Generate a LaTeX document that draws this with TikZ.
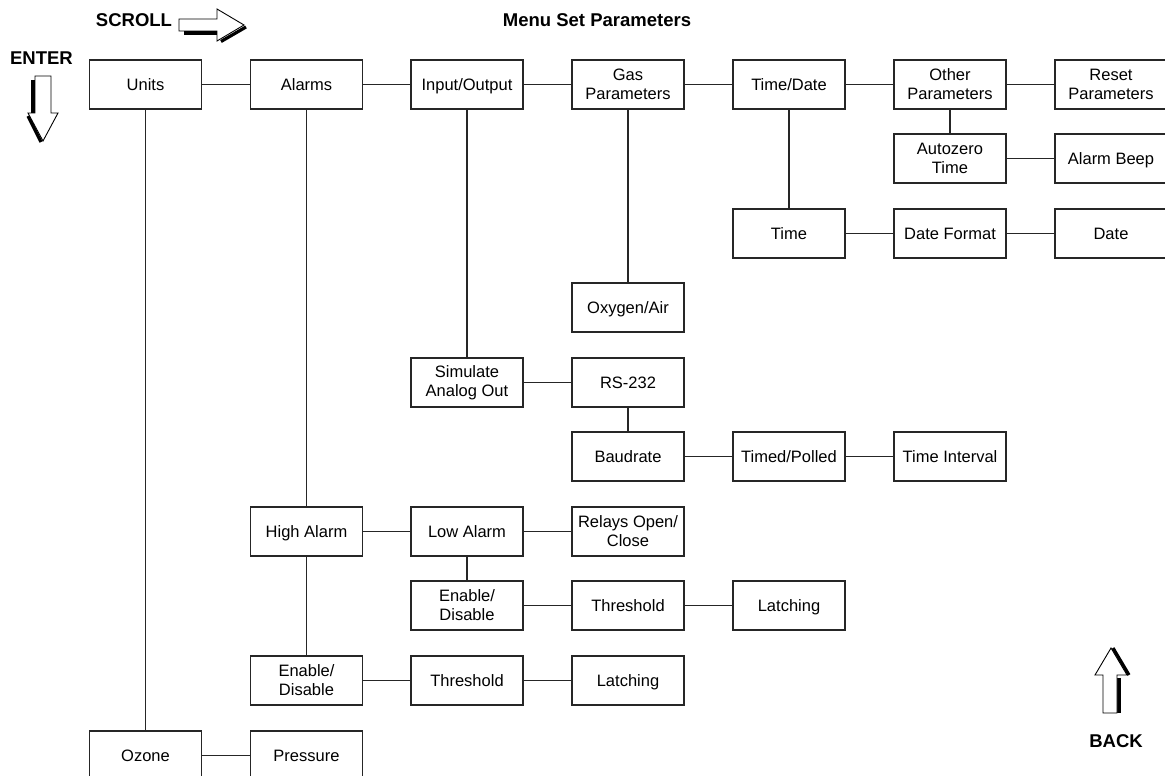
\documentclass[tikz,border=0pt]{standalone}
\usepackage{fontspec}
\setmainfont{Liberation Sans}
\begin{document}
\begin{tikzpicture}[x=1pt,y=-1pt,
  box/.style={draw=black!85, line width=1.1pt, minimum width=112pt, minimum height=49pt,
    inner sep=0pt, align=center, font=\fontsize{16.5}{19}\selectfont},
  one/.style={text height=13pt, text depth=1.2pt},
  lbl/.style={inner sep=0pt, font=\fontsize{18.5}{20}\selectfont\bfseries},
  conn/.style={line width=1.1pt, draw=black!85},
  blockarrow/.style={draw=black, line width=0.9pt, fill=white, line join=miter},
  arrowshadow/.style={draw=black, line width=3.2pt}
]
\useasboundingbox (0,0) rectangle (1165,776);
\clip (0,0) rectangle (1165,776);
% ---- labels
\node[lbl] (title) at (597,20) {Menu Set Parameters};
\node[lbl] (scroll) at (134,20.5) {SCROLL};
\node[lbl] (enter) at (41.5,58.5) {ENTER};
\node[lbl] (back) at (1116,741.5) {BACK};
% ---- block arrows
% scroll (right)
\draw[arrowshadow] (184,33) -- (218,33);
\draw[arrowshadow] (221,41.5) -- (246,27);
\draw[blockarrow] (179,19) -- (217,19) -- (217,9) -- (244,25) -- (217,41) -- (217,31) -- (179,31) -- cycle;
% enter (down)
\draw[arrowshadow] (33,80) -- (33,113);
\draw[arrowshadow] (28,116) -- (41,142);
\draw[blockarrow] (35,76) -- (51,76) -- (51,113) -- (58,113) -- (43,141) -- (28,113) -- (35,113) -- cycle;
% back (up)
\draw[arrowshadow] (1119,678) -- (1119,713);
\draw[arrowshadow] (1113,648) -- (1129,675);
\draw[blockarrow] (1111,648) -- (1127,675) -- (1117,675) -- (1117,713) -- (1103,713) -- (1103,675) -- (1095,675) -- cycle;
% ---- boxes: columns 145.5,306.5,467,628,789,950,1111
\node[box,one] (units)  at (145.5,84.5) {Units};
\node[box,one] (alarms) at (306.5,84.5) {Alarms};
\node[box,one] (io)     at (467,84.5)   {Input/Output};
\node[box] (gas)    at (628,84.5)   {Gas\\Parameters};
\node[box,one] (td)     at (789,84.5)   {Time/Date};
\node[box] (other)  at (950,84.5)   {Other\\Parameters};
\node[box] (reset)  at (1111,84.5)  {Reset\\Parameters};
\node[box] (auto)   at (950,158.5)  {Autozero\\Time};
\node[box,one] (beep)   at (1111,158.5) {Alarm Beep};
\node[box,one] (time)   at (789,233.5)  {Time};
\node[box,one] (dfmt)   at (950,233.5)  {Date Format};
\node[box,one] (date)   at (1111,233.5) {Date};
\node[box,one] (oxy)    at (628,307.5)  {Oxygen/Air};
\node[box] (sim)    at (467,382.5)  {Simulate\\Analog Out};
\node[box,one] (rs)     at (628,382.5)  {RS-232};
\node[box,one] (baud)   at (628,456.5)  {Baudrate};
\node[box,one] (tp)     at (789,456.5)  {Timed/Polled};
\node[box,one] (ti)     at (950,456.5)  {Time Interval};
\node[box,one] (high)   at (306.5,531.5) {High Alarm};
\node[box,one] (low)    at (467,531.5)  {Low Alarm};
\node[box] (relay)  at (628,531.5)  {Relays Open/\\Close};
\node[box] (enl)    at (467,605.5)  {Enable/\\Disable};
\node[box,one] (thl)    at (628,605.5)  {Threshold};
\node[box,one] (lal)    at (789,605.5)  {Latching};
\node[box] (enh)    at (306.5,680.5) {Enable/\\Disable};
\node[box,one] (thh)    at (467,680.5)  {Threshold};
\node[box,one] (lah)    at (628,680.5)  {Latching};
\node[box,one] (ozone)  at (145.5,755.5) {Ozone};
\node[box,one] (press)  at (306.5,755.5) {Pressure};
% ---- connectors
\draw[conn] (units) -- (alarms);
\draw[conn] (alarms) -- (io);
\draw[conn] (io) -- (gas);
\draw[conn] (gas) -- (td);
\draw[conn] (td) -- (other);
\draw[conn] (other) -- (reset);
\draw[conn] (other) -- (auto);
\draw[conn] (auto) -- (beep);
\draw[conn] (td) -- (time);
\draw[conn] (time) -- (dfmt);
\draw[conn] (dfmt) -- (date);
\draw[conn] (gas) -- (oxy);
\draw[conn] (io) -- (sim);
\draw[conn] (sim) -- (rs);
\draw[conn] (rs) -- (baud);
\draw[conn] (baud) -- (tp);
\draw[conn] (tp) -- (ti);
\draw[conn] (alarms) -- (high);
\draw[conn] (high) -- (low);
\draw[conn] (low) -- (relay);
\draw[conn] (low) -- (enl);
\draw[conn] (enl) -- (thl);
\draw[conn] (thl) -- (lal);
\draw[conn] (high) -- (enh);
\draw[conn] (enh) -- (thh);
\draw[conn] (thh) -- (lah);
\draw[conn] (units) -- (ozone);
\draw[conn] (ozone) -- (press);
\end{tikzpicture}
\end{document}
